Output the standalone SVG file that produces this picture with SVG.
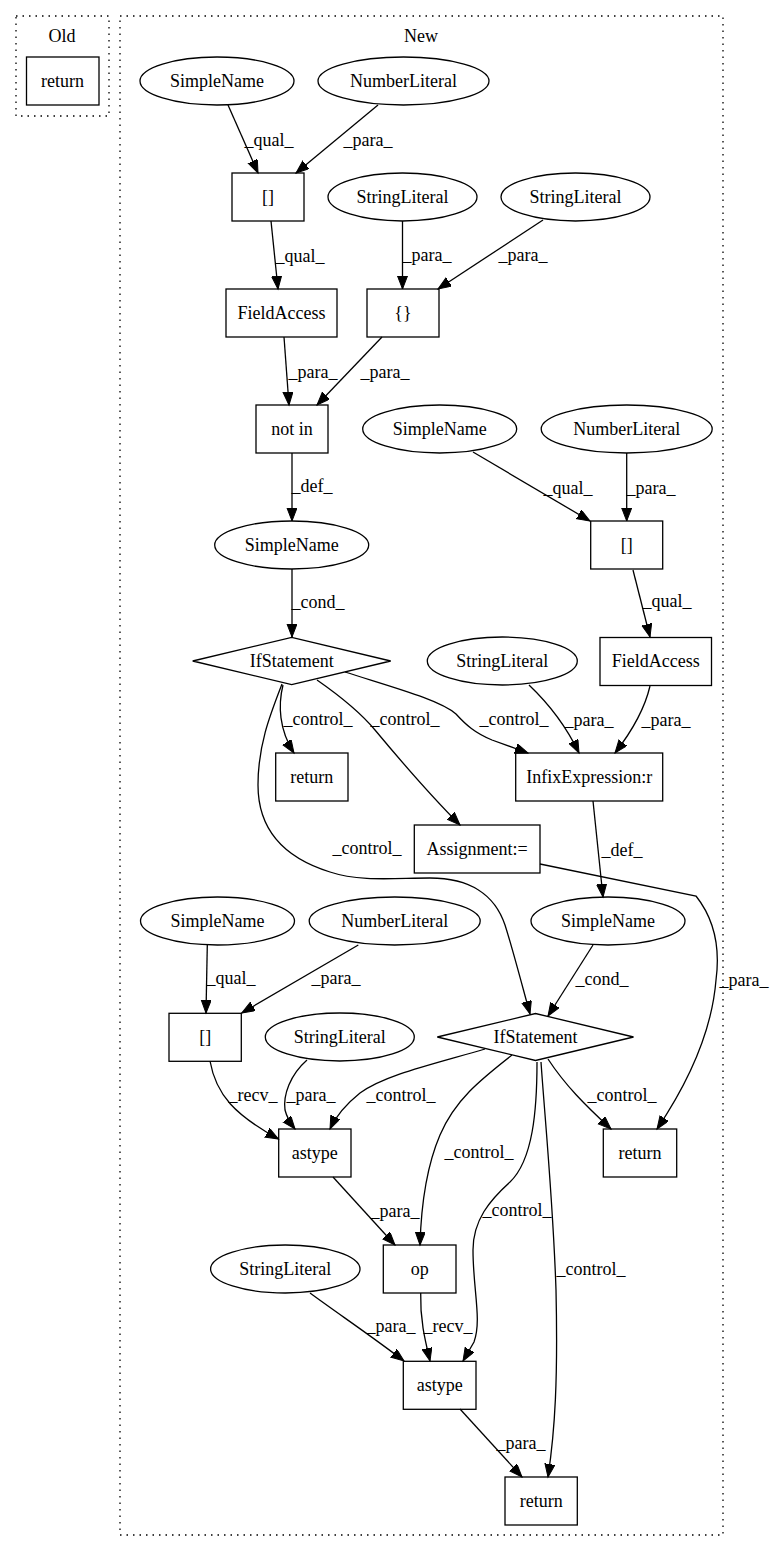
<svg xmlns="http://www.w3.org/2000/svg" width="773" height="1552" viewBox="0 0 773 1552">
<style>
.n{fill:none;stroke:#000;stroke-width:1.3}
.c{fill:none;stroke:#000;stroke-width:1.3;stroke-dasharray:1.5,5}
.e path{fill:none;stroke:#000;stroke-width:1.3;marker-end:url(#ah)}
</style>
<defs>
<marker id="ah" markerUnits="userSpaceOnUse" markerWidth="16" markerHeight="12" refX="13" refY="5" orient="auto">
<path d="M0,0 L13,5 L0,10 z" fill="#000" stroke="#000" stroke-width="1"/>
</marker>
</defs>
<rect width="773" height="1552" fill="#fff"/>
<g id="clusterOld"><rect class="c" x="16" y="16" width="93" height="100"/><text x="62" y="42" font-family="Liberation Serif" font-size="18" text-anchor="middle">Old</text></g>
<g id="clusterNew"><rect class="c" x="120" y="16" width="603" height="1519"/><text x="421" y="42" font-family="Liberation Serif" font-size="18" text-anchor="middle">New</text></g>

<g id="old_return"><rect class="n" x="26.5" y="57" width="72.5" height="48"/><text x="62.5" y="87" font-family="Liberation Serif" font-size="18" text-anchor="middle">return</text></g>

<g id="sn1"><ellipse class="n" cx="217" cy="81" rx="77" ry="24"/><text x="217" y="87" font-family="Liberation Serif" font-size="18" text-anchor="middle">SimpleName</text></g>
<g id="nl1"><ellipse class="n" cx="403.5" cy="81" rx="85.5" ry="24"/><text x="403.5" y="87" font-family="Liberation Serif" font-size="18" text-anchor="middle">NumberLiteral</text></g>
<g id="arr1"><rect class="n" x="232" y="173" width="72" height="48"/><text x="268" y="203" font-family="Liberation Serif" font-size="18" text-anchor="middle">[]</text></g>
<g id="sl1"><ellipse class="n" cx="402.5" cy="197" rx="74.5" ry="24"/><text x="402.5" y="203" font-family="Liberation Serif" font-size="18" text-anchor="middle">StringLiteral</text></g>
<g id="sl2"><ellipse class="n" cx="575.5" cy="197" rx="74.5" ry="24"/><text x="575.5" y="203" font-family="Liberation Serif" font-size="18" text-anchor="middle">StringLiteral</text></g>
<g id="fa1"><rect class="n" x="226" y="289" width="111" height="48"/><text x="281.5" y="319" font-family="Liberation Serif" font-size="18" text-anchor="middle">FieldAccess</text></g>
<g id="brace"><rect class="n" x="367" y="289" width="72" height="48"/><text x="403" y="319" font-family="Liberation Serif" font-size="18" text-anchor="middle">{}</text></g>
<g id="notin"><rect class="n" x="256" y="405" width="72" height="48"/><text x="292" y="435" font-family="Liberation Serif" font-size="18" text-anchor="middle">not in</text></g>
<g id="sn2"><ellipse class="n" cx="439.7" cy="429" rx="77" ry="24"/><text x="439.7" y="435" font-family="Liberation Serif" font-size="18" text-anchor="middle">SimpleName</text></g>
<g id="nl2"><ellipse class="n" cx="626.7" cy="429" rx="85.5" ry="24"/><text x="626.7" y="435" font-family="Liberation Serif" font-size="18" text-anchor="middle">NumberLiteral</text></g>
<g id="arr2"><rect class="n" x="590.7" y="521" width="72" height="48"/><text x="626.7" y="551" font-family="Liberation Serif" font-size="18" text-anchor="middle">[]</text></g>
<g id="sn3"><ellipse class="n" cx="291.7" cy="545" rx="77" ry="24"/><text x="291.7" y="551" font-family="Liberation Serif" font-size="18" text-anchor="middle">SimpleName</text></g>
<g id="fa2"><rect class="n" x="600" y="637.5" width="111.5" height="48"/><text x="655.8" y="667" font-family="Liberation Serif" font-size="18" text-anchor="middle">FieldAccess</text></g>
<g id="if1"><polygon class="n" points="192.7,661 291.7,637.3 390.7,661 291.7,684.7"/><text x="291.7" y="667" font-family="Liberation Serif" font-size="18" text-anchor="middle">IfStatement</text></g>
<g id="sl3"><ellipse class="n" cx="502.3" cy="661" rx="75" ry="24"/><text x="502.3" y="667" font-family="Liberation Serif" font-size="18" text-anchor="middle">StringLiteral</text></g>
<g id="ret1"><rect class="n" x="275.7" y="753" width="72.3" height="48"/><text x="311.8" y="783" font-family="Liberation Serif" font-size="18" text-anchor="middle">return</text></g>
<g id="infix"><rect class="n" x="515.7" y="753" width="147" height="48"/><text x="589.2" y="783" font-family="Liberation Serif" font-size="18" text-anchor="middle">InfixExpression:r</text></g>
<g id="assign"><rect class="n" x="414.3" y="825" width="125.7" height="48"/><text x="477.2" y="855" font-family="Liberation Serif" font-size="18" text-anchor="middle">Assignment:=</text></g>
<g id="sn4"><ellipse class="n" cx="608" cy="921" rx="77" ry="24"/><text x="608" y="927" font-family="Liberation Serif" font-size="18" text-anchor="middle">SimpleName</text></g>
<g id="sn5"><ellipse class="n" cx="217.5" cy="921" rx="77" ry="24"/><text x="217.5" y="927" font-family="Liberation Serif" font-size="18" text-anchor="middle">SimpleName</text></g>
<g id="nl3"><ellipse class="n" cx="394.7" cy="921" rx="85.5" ry="24"/><text x="394.7" y="927" font-family="Liberation Serif" font-size="18" text-anchor="middle">NumberLiteral</text></g>
<g id="arr3"><rect class="n" x="169" y="1013.3" width="72.3" height="48"/><text x="205.2" y="1043" font-family="Liberation Serif" font-size="18" text-anchor="middle">[]</text></g>
<g id="sl4"><ellipse class="n" cx="339.8" cy="1037" rx="74.5" ry="24"/><text x="339.8" y="1043" font-family="Liberation Serif" font-size="18" text-anchor="middle">StringLiteral</text></g>
<g id="if2"><polygon class="n" points="437.3,1037 535.5,1013.5 633.5,1037 535.5,1060.5"/><text x="535.5" y="1043" font-family="Liberation Serif" font-size="18" text-anchor="middle">IfStatement</text></g>
<g id="ret2"><rect class="n" x="603.3" y="1129" width="73.4" height="48"/><text x="640" y="1159" font-family="Liberation Serif" font-size="18" text-anchor="middle">return</text></g>
<g id="astype1"><rect class="n" x="278.7" y="1129" width="72.3" height="48"/><text x="314.8" y="1159" font-family="Liberation Serif" font-size="18" text-anchor="middle">astype</text></g>
<g id="op"><rect class="n" x="383.3" y="1245" width="72.7" height="48"/><text x="419.7" y="1275" font-family="Liberation Serif" font-size="18" text-anchor="middle">op</text></g>
<g id="sl5"><ellipse class="n" cx="285.3" cy="1269" rx="74.7" ry="24"/><text x="285.3" y="1275" font-family="Liberation Serif" font-size="18" text-anchor="middle">StringLiteral</text></g>
<g id="astype2"><rect class="n" x="403.3" y="1361.3" width="72.7" height="48"/><text x="439.7" y="1391" font-family="Liberation Serif" font-size="18" text-anchor="middle">astype</text></g>
<g id="ret3"><rect class="n" x="505" y="1477" width="72.3" height="48"/><text x="541.2" y="1507" font-family="Liberation Serif" font-size="18" text-anchor="middle">return</text></g>

<g id="edges" class="e">
<path d="M228,105 L258,173"/>
<path d="M378,105 L296,173"/>
<path d="M271,221 L278,289"/>
<path d="M402.5,221 L402.5,289"/>
<path d="M543,220 L438,289"/>
<path d="M284,337 L289,405"/>
<path d="M382,337 L317,405"/>
<path d="M292,453 L292,521"/>
<path d="M292,569 L292,637"/>
<path d="M473,452 L590,521"/>
<path d="M626.7,453 L626.7,521"/>
<path d="M633,570 L650,637"/>
<path d="M529,685 C548,703 567,728 579,753"/>
<path d="M650,686 C644,712 629,735 615,753"/>
<path d="M283,685 C278,705 279,730 294,753"/>
<path d="M317,680 C340,696 360,712 375,730 C400,760 430,795 460,825"/>
<path d="M345,672 C395,688 440,700 456,714 C466,725 475,733 492,740 L528,753"/>
<path d="M282,684 C270,715 258,745 258,785 C258,830 285,858 330,872 C360,882 395,878 430,878 C470,878 495,895 505,925 C513,950 522,985 530,1014"/>
<path d="M540,864 L696,896 C715,920 720,950 716,980 C712,1030 690,1080 657,1129"/>
<path d="M593,801 L603,897"/>
<path d="M593,945 L548,1016"/>
<path d="M207.3,945 L206,1013"/>
<path d="M358.3,945 L241.7,1013"/>
<path d="M210,1061 C216,1095 235,1115 278.5,1139"/>
<path d="M307,1060 C290,1075 283,1095 285,1110 C287,1118 291,1124 295,1129"/>
<path d="M485,1049 C430,1065 385,1075 360,1093 C345,1105 335,1118 330,1129"/>
<path d="M512,1055 C480,1080 455,1100 440,1135 C425,1170 421,1210 420,1245"/>
<path d="M537,1062 C537,1110 533,1160 510,1182 C490,1200 473,1220 473,1250 C473,1290 482,1320 474,1342 L463,1361"/>
<path d="M541,1062 C545,1120 553,1200 556,1290 C558,1380 555,1430 548,1477"/>
<path d="M548,1059 C565,1085 585,1105 611,1129"/>
<path d="M333,1177 L395,1245"/>
<path d="M310,1293 C340,1315 370,1335 404,1361"/>
<path d="M420.7,1293 C420,1320 425,1340 430,1361"/>
<path d="M460,1409 L522,1477"/>
</g>
<g id="edge-labels" font-family="Liberation Serif" font-size="18" text-anchor="middle">
<text x="269" y="146" font-family="Liberation Serif">_qual_</text>
<text x="368" y="146" font-family="Liberation Serif">_para_</text>
<text x="300" y="262" font-family="Liberation Serif">_qual_</text>
<text x="427" y="261" font-family="Liberation Serif">_para_</text>
<text x="523" y="261" font-family="Liberation Serif">_para_</text>
<text x="313" y="378" font-family="Liberation Serif">_para_</text>
<text x="385" y="378" font-family="Liberation Serif">_para_</text>
<text x="312" y="492" font-family="Liberation Serif">_def_</text>
<text x="318" y="608" font-family="Liberation Serif">_cond_</text>
<text x="568" y="494" font-family="Liberation Serif">_qual_</text>
<text x="651" y="494" font-family="Liberation Serif">_para_</text>
<text x="667" y="607" font-family="Liberation Serif">_qual_</text>
<text x="589" y="726" font-family="Liberation Serif">_para_</text>
<text x="666" y="726" font-family="Liberation Serif">_para_</text>
<text x="318" y="725" font-family="Liberation Serif">_control_</text>
<text x="405" y="725" font-family="Liberation Serif">_control_</text>
<text x="514" y="725" font-family="Liberation Serif">_control_</text>
<text x="367" y="854" font-family="Liberation Serif">_control_</text>
<text x="744" y="986" font-family="Liberation Serif">_para_</text>
<text x="622" y="856" font-family="Liberation Serif">_def_</text>
<text x="602" y="985" font-family="Liberation Serif">_cond_</text>
<text x="231" y="984" font-family="Liberation Serif">_qual_</text>
<text x="336" y="984" font-family="Liberation Serif">_para_</text>
<text x="253" y="1101" font-family="Liberation Serif">_recv_</text>
<text x="311" y="1101" font-family="Liberation Serif">_para_</text>
<text x="401" y="1101" font-family="Liberation Serif">_control_</text>
<text x="479" y="1158" font-family="Liberation Serif">_control_</text>
<text x="517" y="1216" font-family="Liberation Serif">_control_</text>
<text x="591" y="1275" font-family="Liberation Serif">_control_</text>
<text x="622" y="1101" font-family="Liberation Serif">_control_</text>
<text x="395" y="1217" font-family="Liberation Serif">_para_</text>
<text x="391" y="1332" font-family="Liberation Serif">_para_</text>
<text x="448" y="1332" font-family="Liberation Serif">_recv_</text>
<text x="521" y="1449" font-family="Liberation Serif">_para_</text>
</g>
</svg>
